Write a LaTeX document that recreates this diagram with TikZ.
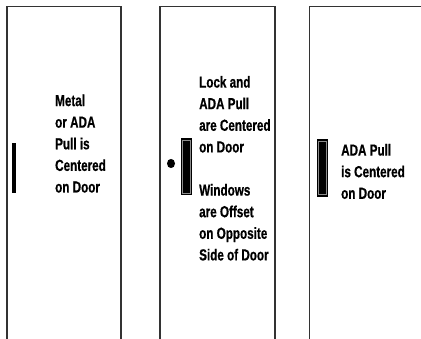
\documentclass[tikz,border=0pt]{standalone}
\usepackage{fontspec}
\newfontfamily\condbold[FakeStretch=0.73,FakeBold=0.6]{Liberation Sans Bold}
\begin{document}
\begin{tikzpicture}[x=1pt,y=-1pt,
  doorline/.style={draw=black!80,line width=1.4pt},
  pullbar/.style={fill=black},
  pullinner/.style={draw=black!45,line width=0.5pt},
  label/.style={anchor=north west,inner sep=0pt,align=left,
    font=\condbold\fontsize{16}{21.6}\selectfont}]
\useasboundingbox (0,0) rectangle (421,339);
% doors
\draw[doorline] (7,339.5) -- (7,6.5) -- (121,6.5) -- (121,339.5);
\draw[doorline] (160,339.5) -- (160,6.5) -- (275,6.5) -- (275,339.5);
\draw[doorline] (309.5,339.5) -- (309.5,6.5) -- (421,6.5);
% pulls
\fill[pullbar] (12,143) rectangle (15.5,193);
\fill[pullbar] (180.7,138) rectangle (191.7,195.5);
\draw[pullinner] (182.5,140) rectangle (189.9,193.5);
\fill[pullbar] (171,163.5) ellipse [x radius=4, y radius=4.6];
\fill[pullbar] (316.7,139) rectangle (328.3,196.7);
\draw[pullinner] (318.5,141) rectangle (326.5,194.7);
% labels
\node[label] (t1) at (55,94.3) {Metal\\or ADA\\Pull is\\Centered\\on Door};
\node[label] (t2) at (199,75.8) {Lock and\\ADA Pull\\are Centered\\on Door\\[21.6pt]Windows\\are Offset\\on Opposite\\Side of Door};
\node[label] (t3) at (341,143.8) {ADA Pull\\is Centered\\on Door};
\end{tikzpicture}
\end{document}
